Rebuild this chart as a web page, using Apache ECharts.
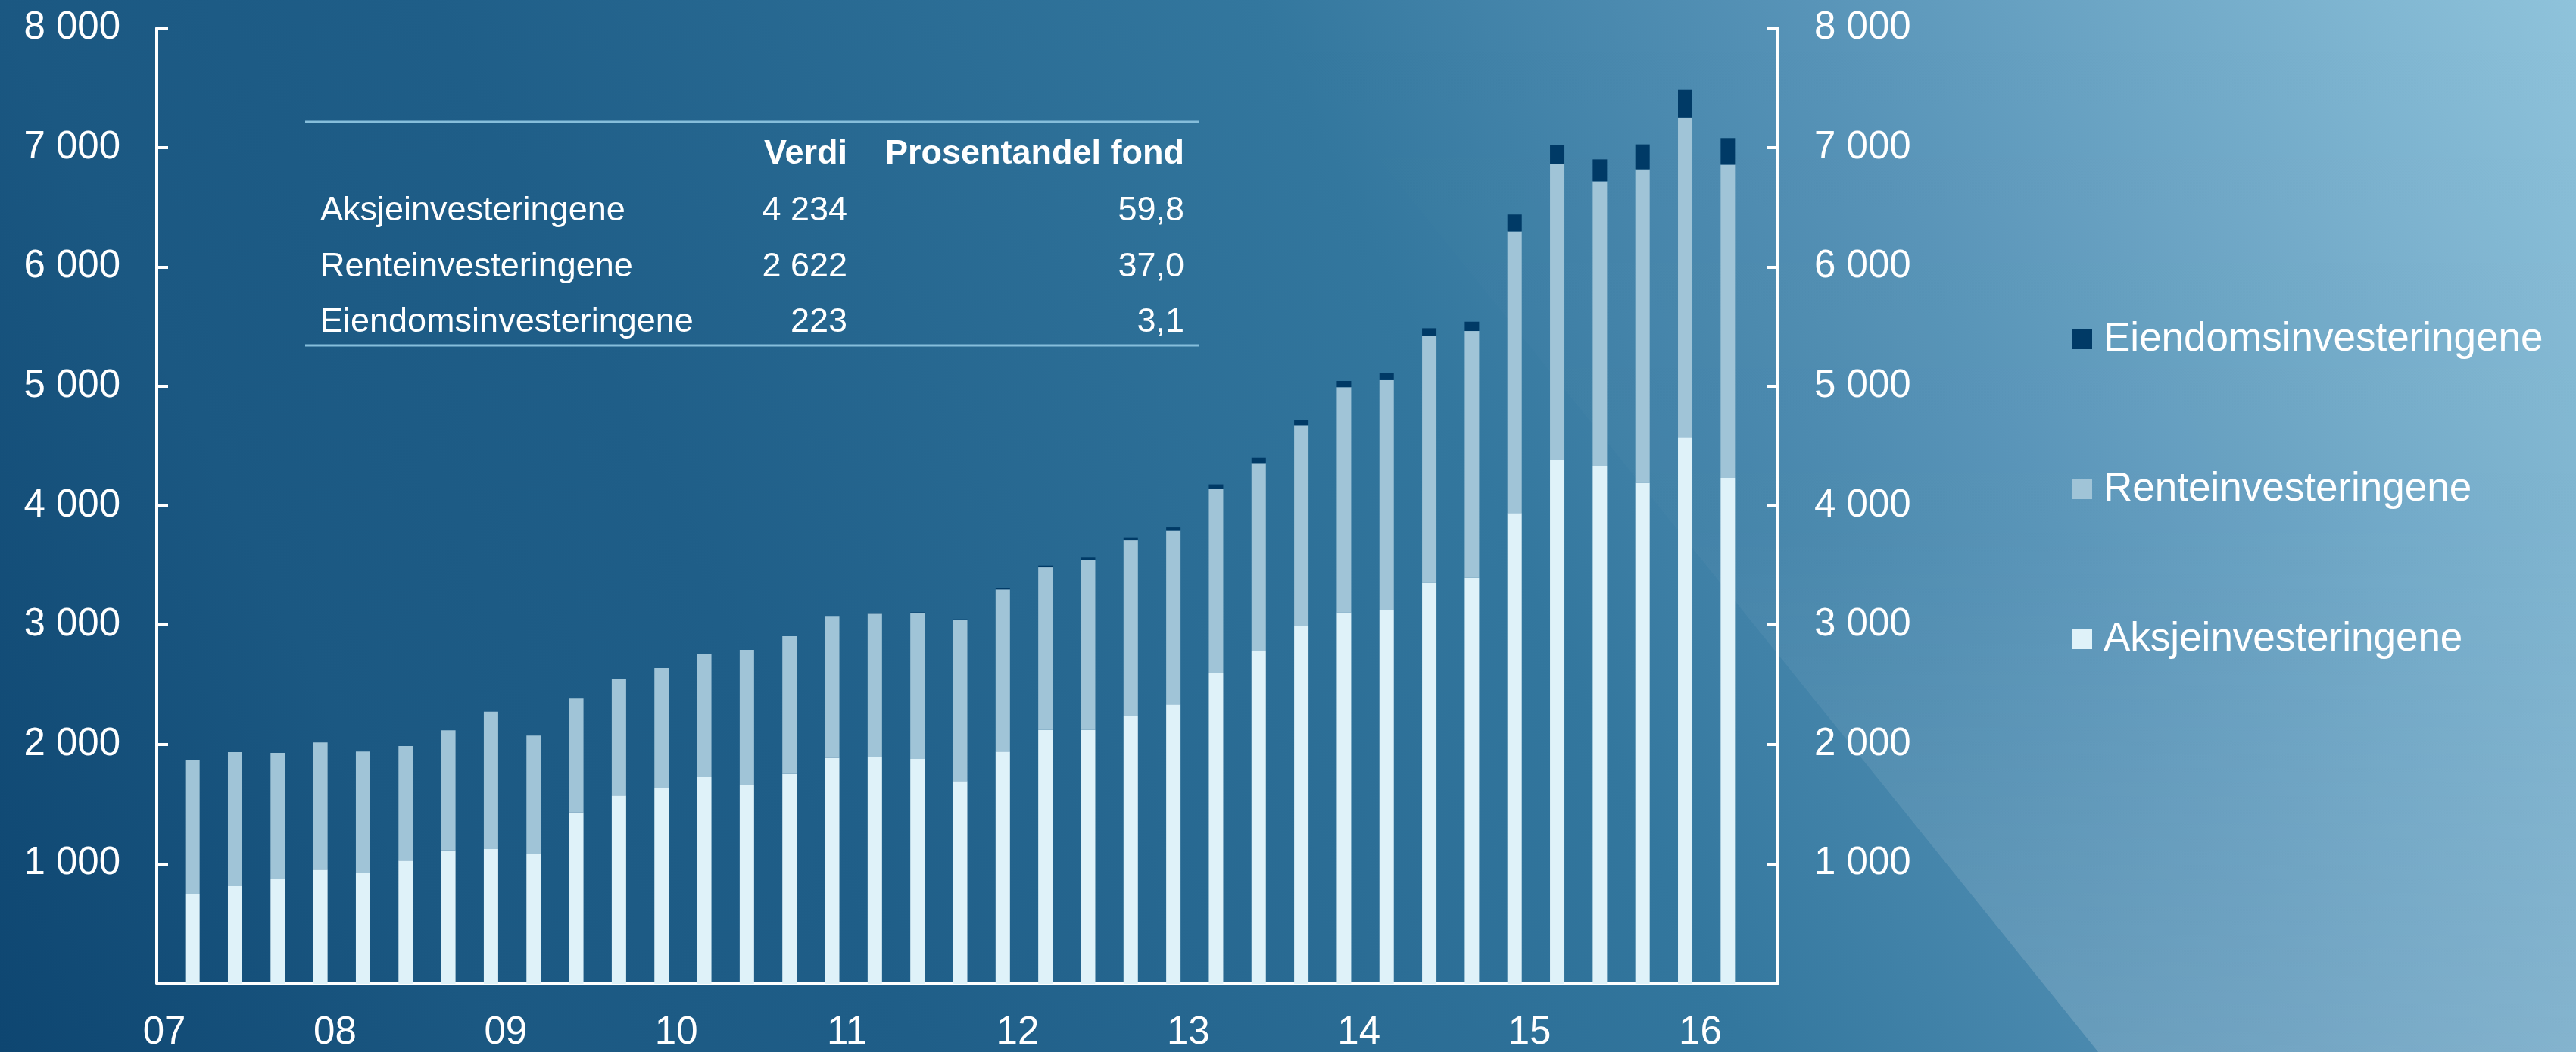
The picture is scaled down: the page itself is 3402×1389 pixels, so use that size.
<!DOCTYPE html>
<html>
<head>
<meta charset="utf-8">
<script src="https://cdn.jsdelivr.net/npm/echarts@6/dist/echarts.min.js"></script>
<style>
  html, body { margin:0; padding:0; width:3402px; height:1389px; overflow:hidden; }
  #chart { width:3402px; height:1389px;
    background: linear-gradient(65deg, #0e4671 0%, #1b5882 16%, #1f5e88 30%, #33779e 57%, #5894b8 75%, #8fc3db 100%); }
</style>
</head>
<body>
<div id="chart"></div>
<script>
// Quarters 2007 K1 .. 2016 K1
const quarters = [
  '2007K1','2007K2','2007K3','2007K4','2008K1','2008K2','2008K3','2008K4',
  '2009K1','2009K2','2009K3','2009K4','2010K1','2010K2','2010K3','2010K4',
  '2011K1','2011K2','2011K3','2011K4','2012K1','2012K2','2012K3','2012K4',
  '2013K1','2013K2','2013K3','2013K4','2014K1','2014K2','2014K3','2014K4',
  '2015K1','2015K2','2015K3','2015K4','2016K1'
];
const yearLabels = ['07','08','09','10','11','12','13','14','15','16'];

const aksje = [751, 817, 880, 955, 931, 1032, 1119, 1128, 1090, 1436, 1577, 1640, 1730, 1664, 1757, 1892,
               1900, 1883, 1697, 1945, 2125, 2125, 2244, 2337, 2606, 2783, 2999, 3109, 3127, 3357, 3399, 3941,
               4387, 4336, 4194, 4575, 4234];
const rente = [1125, 1122, 1053, 1065, 1014, 958, 1003, 1149, 987, 952, 975, 1003, 1032, 1131, 1152, 1187,
               1198, 1222, 1346, 1356, 1361, 1424, 1470, 1457, 1540, 1576, 1677, 1885, 1926, 2065, 2065, 2357,
               2472, 2381, 2623, 2672, 2622];
const eiendom = [0, 0, 0, 0, 0, 0, 0, 0, 0, 0, 0, 0, 0, 0, 0, 0,
                 2, 4, 8, 12, 15, 18, 22, 28, 34, 42, 45, 52, 62, 65, 78, 141,
                 163, 184, 209, 235, 223];

const seriesNames = ['Aksjeinvesteringene','Renteinvesteringene','Eiendomsinvesteringene'];
const seriesColors = ['#dff2f9','#a0c4d7','#003a66'];

// Inset table
const tableHeader = ['Verdi','Prosentandel fond'];
const tableNames = ['Aksjeinvesteringene','Renteinvesteringene','Eiendomsinvesteringene'];
const tableVerdi = ['4 234','2 622','223'];
const tableShare = ['59,8','37,0','3,1'];

const FONT = "'Liberation Sans', Arial, Helvetica, sans-serif";
const fmt = v => String(v).replace(/\B(?=(\d{3})+(?!\d))/g, ' ');

const chart = echarts.init(document.getElementById('chart'), null, {renderer:'canvas'});

const yAxisCommon = {
  type: 'value', min: 0, max: 8000, interval: 1000, gridIndex: 0,
  axisLine: { show: true, onZero: false, lineStyle: { color: '#ffffff', width: 4 } },
  axisTick: { show: true, inside: true, length: 15, lineStyle: { color: '#ffffff', width: 4 } },
  splitLine: { show: false },
  axisLabel: {
    color: '#ffffff', fontFamily: FONT, fontSize: 51, margin: 48,
    padding: [8, 0, 0, 0],
    showMinLabel: false,
    formatter: v => (v === 0 ? '' : fmt(v))
  }
};

const textEl = (text, x, y, align, bold) => ({
  type: 'text', x: x, y: y, z: 10, silent: true,
  style: {
    text: text, fill: '#ffffff',
    font: (bold ? 'bold ' : '') + '45px ' + FONT,
    align: align, verticalAlign: 'middle',
    textAlign: align, textVerticalAlign: 'middle'
  }
});

const tableRowsY = [279, 353, 426];
const graphics = [
  {
    type: 'polygon', z: -10, silent: true,
    shape: { points: [[2771,1389],[3402,1389],[3402,0],[1652,0]] },
    style: { fill: new echarts.graphic.LinearGradient(0, 0, 0, 1, [
      { offset: 0, color: 'rgba(255,255,255,0)' },
      { offset: 0.5, color: 'rgba(255,255,255,0.02)' },
      { offset: 1, color: 'rgba(255,255,255,0.17)' }
    ]) }
  },
  { type: 'line', z: 10, silent: true, shape: { x1: 403, y1: 161, x2: 1584, y2: 161 },
    style: { stroke: '#86bedb', lineWidth: 3 } },
  { type: 'line', z: 10, silent: true, shape: { x1: 403, y1: 456, x2: 1584, y2: 456 },
    style: { stroke: '#86bedb', lineWidth: 3 } },
  textEl(tableHeader[0], 1119, 204, 'right', true),
  textEl(tableHeader[1], 1564, 204, 'right', true)
];
tableNames.forEach((n, k) => {
  graphics.push(textEl(n, 423, tableRowsY[k], 'left', false));
  graphics.push(textEl(tableVerdi[k], 1119, tableRowsY[k], 'right', false));
  graphics.push(textEl(tableShare[k], 1564, tableRowsY[k], 'right', false));
});

const option = {
  backgroundColor: 'transparent',
  animation: false,
  grid: [
    // frame grid: axis lines, y ticks and year labels
    { left: 207, right: 1054, top: 37, bottom: 90, containLabel: false },
    // bar grid: one slot per quarter
    { left: 226, right: 1092, top: 37, bottom: 90, containLabel: false }
  ],
  legend: {
    orient: 'vertical', left: 2732, top: 413,
    itemWidth: 26, itemHeight: 26, itemGap: 138, icon: 'rect',
    data: [seriesNames[2], seriesNames[1], seriesNames[0]],
    textStyle: { color: '#ffffff', fontFamily: FONT, fontSize: 53, lineHeight: 60, padding: [0,0,0,10] },
    selectedMode: false
  },
  xAxis: [
    {
      // year axis in quarter units, 0 = start of 2007
      type: 'value', gridIndex: 0, min: -0.337, max: 37.66,
      axisLine: { show: true, onZero: false, lineStyle: { color: '#ffffff', width: 4 } },
      axisTick: { show: false },
      splitLine: { show: false },
      axisLabel: {
        color: '#ffffff', fontFamily: FONT, fontSize: 51, margin: 40,
        padding: [0, 18, 0, 0],
        customValues: yearLabels.map((_, k) => k * 4),
        formatter: v => {
          const k = Math.round(v / 4);
          return (Math.abs(v - k * 4) < 1e-6 && yearLabels[k]) ? yearLabels[k] : '';
        }
      }
    },
    {
      type: 'category', gridIndex: 1, data: quarters, boundaryGap: true,
      axisLine: { show: false }, axisTick: { show: false }, axisLabel: { show: false },
      splitLine: { show: false }
    }
  ],
  yAxis: [
    Object.assign({}, yAxisCommon, { position: 'left' }),
    Object.assign({}, yAxisCommon, { position: 'right' }),
    { type: 'value', gridIndex: 1, min: 0, max: 8000, show: false, splitLine: { show: false } }
  ],
  series: [
    { name: seriesNames[0], type: 'bar', stack: 'fond', barWidth: 19, xAxisIndex: 1, yAxisIndex: 2,
      data: aksje, itemStyle: { color: seriesColors[0] } },
    { name: seriesNames[1], type: 'bar', stack: 'fond', barWidth: 19, xAxisIndex: 1, yAxisIndex: 2,
      data: rente, itemStyle: { color: seriesColors[1] } },
    { name: seriesNames[2], type: 'bar', stack: 'fond', barWidth: 19, xAxisIndex: 1, yAxisIndex: 2,
      data: eiendom, itemStyle: { color: seriesColors[2] } }
  ],
  graphic: { elements: graphics }
};
chart.setOption(option);
</script>
</body>
</html>
